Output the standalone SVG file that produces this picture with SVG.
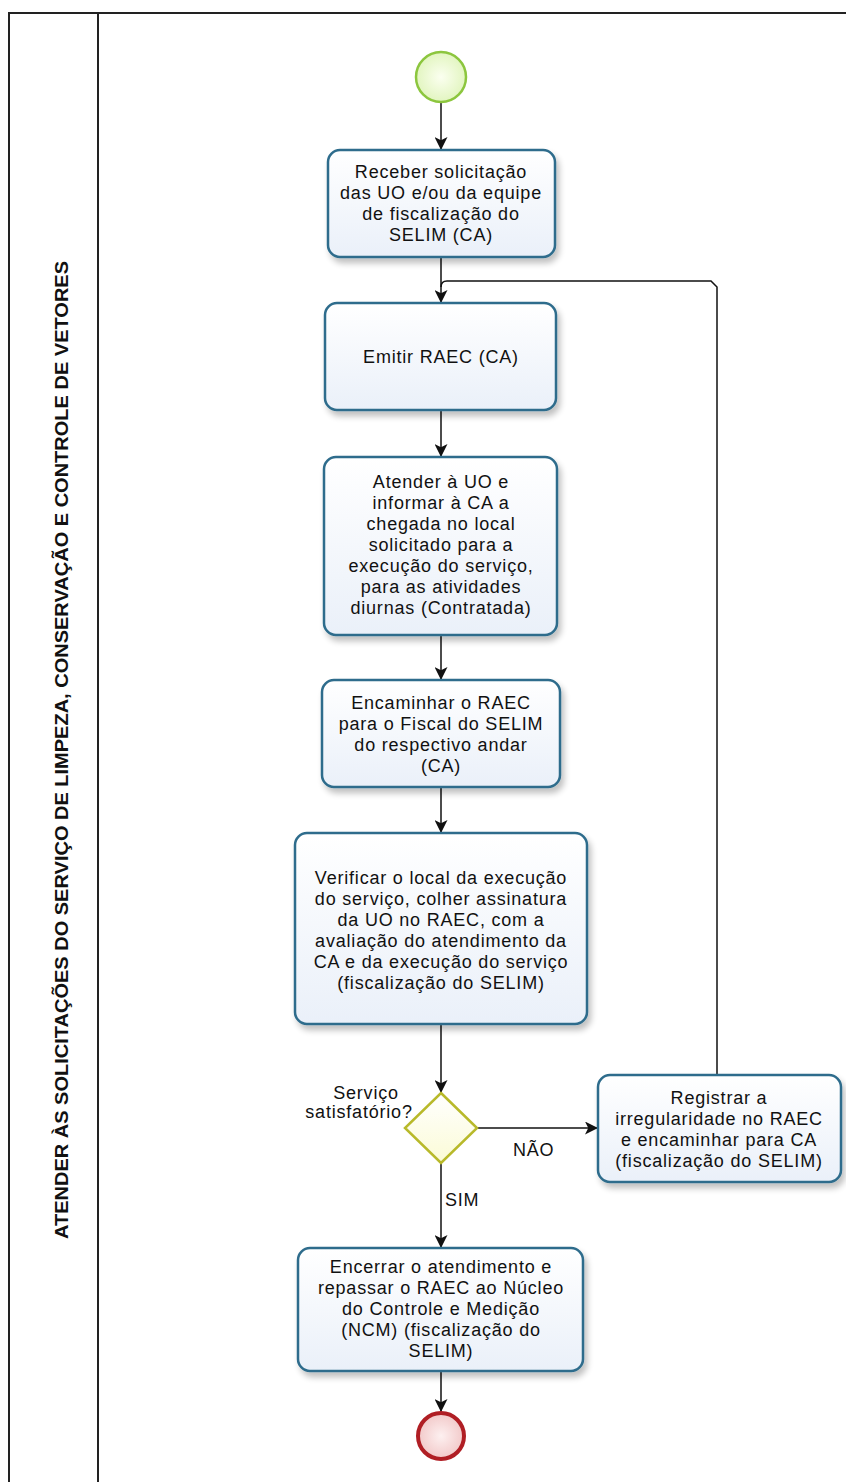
<svg xmlns="http://www.w3.org/2000/svg" width="846" height="1482" viewBox="0 0 846 1482">
<defs>
<linearGradient id="gBox" x1="0" y1="0" x2="0" y2="1"><stop offset="0" stop-color="#ffffff"/><stop offset="1" stop-color="#eaf0f9"/></linearGradient>
<radialGradient id="gStart" cx="0.5" cy="0.5" r="0.5"><stop offset="0" stop-color="#fbfff0"/><stop offset="1" stop-color="#e2f5c0"/></radialGradient>
<radialGradient id="gEnd" cx="0.5" cy="0.5" r="0.5"><stop offset="0" stop-color="#fdf0f0"/><stop offset="1" stop-color="#f2c9c9"/></radialGradient>
<linearGradient id="gDia" x1="0" y1="0" x2="0" y2="1"><stop offset="0" stop-color="#ffffff"/><stop offset="1" stop-color="#fbfbd6"/></linearGradient>
<filter id="sh" x="-10%" y="-10%" width="130%" height="140%"><feGaussianBlur in="SourceAlpha" stdDeviation="3"/><feOffset dx="3" dy="5"/><feComponentTransfer><feFuncA type="linear" slope="0.25"/></feComponentTransfer><feMerge><feMergeNode/><feMergeNode in="SourceGraphic"/></feMerge></filter>
<marker id="arr" viewBox="0 0 12 12" refX="12" refY="6" markerWidth="13" markerHeight="13" markerUnits="userSpaceOnUse" orient="auto"><path d="M0,0 L12,6 L0,12 L3,6 Z" fill="#111"/></marker>
</defs>
<style>
.frame{fill:none;stroke:#222;stroke-width:2}
.box{fill:url(#gBox);stroke:#2e6c8c;stroke-width:2.5;filter:url(#sh)}
.t{font-family:"Liberation Sans",Arial,sans-serif;font-size:18px;letter-spacing:0.8px;fill:#111;text-anchor:middle}
.lbl{font-family:"Liberation Sans",Arial,sans-serif;font-size:18px;letter-spacing:0.8px;fill:#111}
.con{fill:none;stroke:#111;stroke-width:1.5}
.title{font-family:"Liberation Sans",Arial,sans-serif;font-size:18px;font-weight:bold;fill:#111;text-anchor:middle}
</style>
<rect width="846" height="1482" fill="#ffffff"/>
<g id="pool">
<rect class="frame" x="9" y="13" width="850" height="1480"/>
<line class="frame" x1="98" y1="13" x2="98" y2="1482"/>
<text class="title" transform="translate(68,750) rotate(-90)" textLength="978" lengthAdjust="spacingAndGlyphs">ATENDER ÀS SOLICITAÇÕES DO SERVIÇO DE LIMPEZA, CONSERVAÇÃO E CONTROLE DE VETORES</text>
</g>
<g id="connectors">
<line class="con" x1="441" y1="103" x2="441" y2="150" marker-end="url(#arr)"/>
<line class="con" x1="441" y1="257" x2="441" y2="303" marker-end="url(#arr)"/>
<path class="con" d="M717 1075 V287 L711 281 H447 Q441 281 441 287"/>
<line class="con" x1="441" y1="410" x2="441" y2="457" marker-end="url(#arr)"/>
<line class="con" x1="441" y1="635" x2="441" y2="680" marker-end="url(#arr)"/>
<line class="con" x1="441" y1="787" x2="441" y2="833" marker-end="url(#arr)"/>
<line class="con" x1="441" y1="1024" x2="441" y2="1093" marker-end="url(#arr)"/>
<line class="con" x1="477" y1="1128" x2="598" y2="1128" marker-end="url(#arr)"/>
<line class="con" x1="441" y1="1163" x2="441" y2="1248" marker-end="url(#arr)"/>
<line class="con" x1="441" y1="1371" x2="441" y2="1412" marker-end="url(#arr)"/>
<text class="lbl" x="513" y="1156">NÃO</text>
<text class="lbl" x="445" y="1206">SIM</text>
</g>
<g id="start">
<circle cx="441" cy="77" r="25" fill="url(#gStart)" stroke="#8cc63e" stroke-width="2.5"/>
</g>
<g id="n1">
<rect class="box" x="328" y="150" width="227" height="107" rx="12"/>
<text class="t" x="441" y="178">Receber solicitação</text>
<text class="t" x="441" y="199">das UO e/ou da equipe</text>
<text class="t" x="441" y="220">de fiscalização do</text>
<text class="t" x="441" y="241">SELIM (CA)</text>
</g>
<g id="n2">
<rect class="box" x="325" y="303" width="231" height="107" rx="12"/>
<text class="t" x="441" y="363">Emitir RAEC (CA)</text>
</g>
<g id="n3">
<rect class="box" x="324" y="457" width="233" height="178" rx="12"/>
<text class="t" x="441" y="488">Atender à UO e</text>
<text class="t" x="441" y="509">informar à CA  a</text>
<text class="t" x="441" y="530">chegada no local</text>
<text class="t" x="441" y="551">solicitado para a</text>
<text class="t" x="441" y="572">execução do serviço,</text>
<text class="t" x="441" y="593">para as atividades</text>
<text class="t" x="441" y="614">diurnas (Contratada)</text>
</g>
<g id="n4">
<rect class="box" x="322" y="680" width="238" height="107" rx="12"/>
<text class="t" x="441" y="709">Encaminhar o RAEC</text>
<text class="t" x="441" y="730">para o Fiscal do SELIM</text>
<text class="t" x="441" y="751">do respectivo andar</text>
<text class="t" x="441" y="772">(CA)</text>
</g>
<g id="n5">
<rect class="box" x="295" y="833" width="292" height="191" rx="12"/>
<text class="t" x="441" y="884">Verificar o local da execução</text>
<text class="t" x="441" y="905">do serviço, colher assinatura</text>
<text class="t" x="441" y="926">da UO no RAEC, com a</text>
<text class="t" x="441" y="947">avaliação do atendimento da</text>
<text class="t" x="441" y="968">CA e da execução do serviço</text>
<text class="t" x="441" y="989">(fiscalização do SELIM)</text>
</g>
<g id="gw">
<polygon points="441,1093 477,1128 441,1163 405,1128" fill="url(#gDia)" stroke="#b8b92a" stroke-width="2.5"/>
<text class="t" x="366" y="1099">Serviço</text>
<text class="t" x="359" y="1118">satisfatório?</text>
</g>
<g id="n6">
<rect class="box" x="598" y="1075" width="243" height="107" rx="12"/>
<text class="t" x="719" y="1104">Registrar a</text>
<text class="t" x="719" y="1125">irregularidade no RAEC</text>
<text class="t" x="719" y="1146">e encaminhar para CA</text>
<text class="t" x="719" y="1167">(fiscalização do SELIM)</text>
</g>
<g id="n7">
<rect class="box" x="298" y="1248" width="285" height="123" rx="12"/>
<text class="t" x="441" y="1273">Encerrar o atendimento e</text>
<text class="t" x="441" y="1294">repassar o RAEC ao Núcleo</text>
<text class="t" x="441" y="1315">do Controle e Medição</text>
<text class="t" x="441" y="1336">(NCM) (fiscalização do</text>
<text class="t" x="441" y="1357">SELIM)</text>
</g>
<g id="end">
<circle cx="441" cy="1436" r="23" fill="url(#gEnd)" stroke="#b01e24" stroke-width="4"/>
</g>
</svg>
